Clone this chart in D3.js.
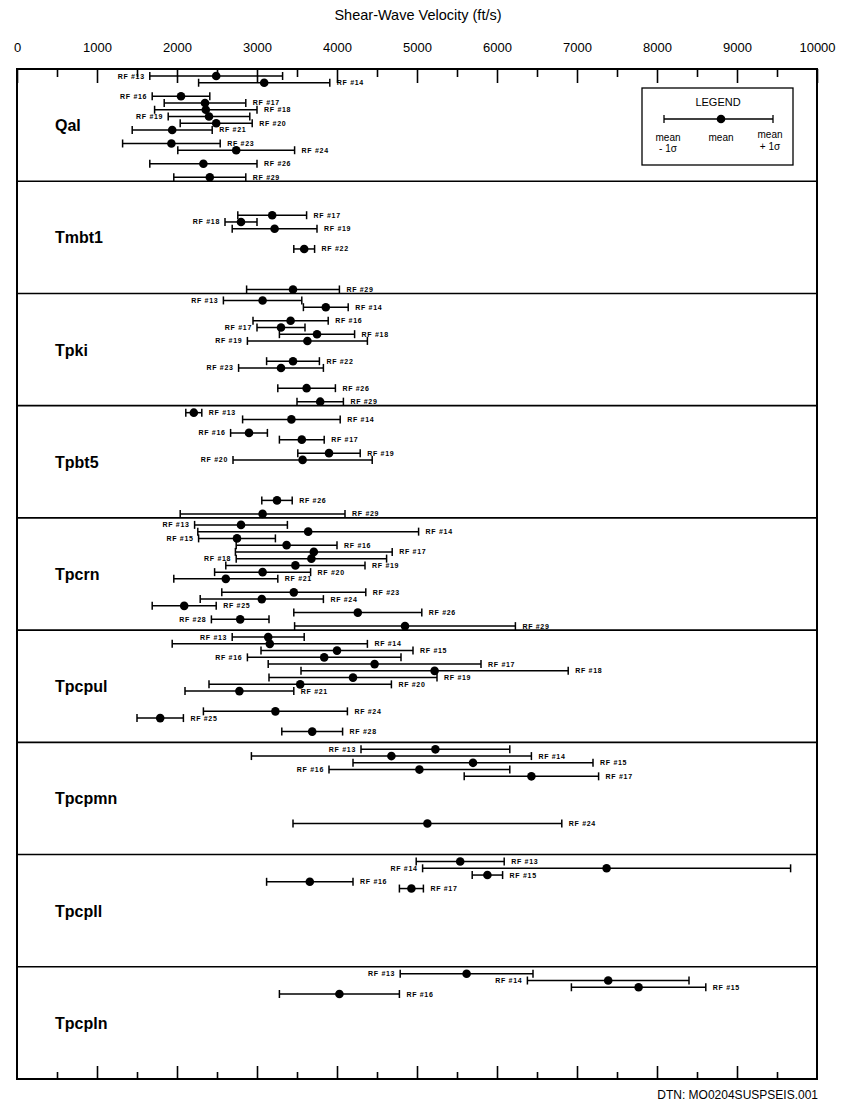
<!DOCTYPE html>
<html>
<head>
<meta charset="utf-8">
<script src="https://cdn.jsdelivr.net/npm/d3@7"></script>
<style>
  body { margin: 0; background: #fff; }
  svg { font-family: "Liberation Sans", Arial, sans-serif; }
  .rf { font-size: 7px; font-weight: bold; letter-spacing: 0.7px; }
  .unit { font-size: 16px; font-weight: bold; }
</style>
</head>
<body>
<div id="chart"></div>
<script>
// shear-wave velocity by unit, mean +/- 1 sigma per RF borehole
var panels = ["Qal", "Tmbt1", "Tpki", "Tpbt5", "Tpcrn", "Tpcpul", "Tpcpmn", "Tpcpll", "Tpcpln"];
var rfSlots = [13, 14, 15, 16, 17, 18, 19, 20, 21, 22, 23, 24, 25, 26, 28, 29];
var tickLabels = [0, 1000, 2000, 3000, 4000, 5000, 6000, 7000, 8000, 9000, 10000];

var qalRF   = [13, 14, 16, 17, 18, 19, 20, 21, 23, 24, 26, 29];
var qalMean = [2490, 3090, 2050, 2350, 2360, 2400, 2490, 1940, 1930, 2740, 2330, 2410];
var qalSd   = [830, 820, 360, 510, 640, 510, 450, 500, 610, 730, 670, 450];

var tmbt1RF   = [17, 18, 19, 22, 29];
var tmbt1Mean = [3190, 2800, 3220, 3590, 3450];
var tmbt1Sd   = [430, 200, 530, 130, 580];

var tpkiRF   = [13, 14, 16, 17, 18, 19, 22, 23, 26, 29];
var tpkiMean = [3070, 3860, 3420, 3300, 3750, 3630, 3450, 3300, 3620, 3790];
var tpkiSd   = [490, 280, 470, 300, 470, 750, 330, 530, 360, 290];

var tpbt5RF   = [13, 14, 16, 17, 19, 20, 26, 29];
var tpbt5Mean = [2210, 3430, 2900, 3560, 3900, 3570, 3250, 3070];
var tpbt5Sd   = [100, 610, 230, 280, 390, 870, 190, 1030];

var tpcrnRF   = [13, 14, 15, 16, 17, 18, 19, 20, 21, 23, 24, 25, 26, 28, 29];
var tpcrnMean = [2800, 3640, 2750, 3370, 3710, 3680, 3480, 3070, 2610, 3460, 3060, 2090, 4260, 2790, 4850];
var tpcrnSd   = [580, 1380, 480, 630, 980, 940, 870, 600, 650, 900, 770, 400, 800, 360, 1380];

var tpcpulRF   = [13, 14, 15, 16, 17, 18, 19, 20, 21, 24, 25, 28];
var tpcpulMean = [3140, 3160, 4000, 3840, 4470, 5220, 4200, 3540, 2780, 3230, 1790, 3690];
var tpcpulSd   = [450, 1220, 950, 960, 1330, 1670, 1050, 1140, 680, 900, 290, 380];

var tpcpmnRF   = [13, 14, 15, 16, 17, 24];
var tpcpmnMean = [5230, 4680, 5700, 5030, 6430, 5130];
var tpcpmnSd   = [930, 1750, 1500, 1130, 840, 1680];

var tpcpllRF   = [13, 14, 15, 16, 17];
var tpcpllMean = [5540, 7370, 5880, 3660, 4930];
var tpcpllSd   = [550, 2300, 190, 540, 150];

var tpcplnRF   = [13, 14, 15, 16];
var tpcplnMean = [5620, 7390, 7770, 4030];
var tpcplnSd   = [830, 1010, 840, 750];

// which rows carry their label on the left of the bar
var leftLabelled = {
  Qal: [13, 16, 19], Tmbt1: [18], Tpki: [13, 17, 19, 23], Tpbt5: [16, 20],
  Tpcrn: [13, 15, 18, 28], Tpcpul: [13, 16], Tpcpmn: [13, 16], Tpcpll: [14], Tpcpln: [13, 14]
};

var series = {
  Qal: [qalRF, qalMean, qalSd],
  Tmbt1: [tmbt1RF, tmbt1Mean, tmbt1Sd],
  Tpki: [tpkiRF, tpkiMean, tpkiSd],
  Tpbt5: [tpbt5RF, tpbt5Mean, tpbt5Sd],
  Tpcrn: [tpcrnRF, tpcrnMean, tpcrnSd],
  Tpcpul: [tpcpulRF, tpcpulMean, tpcpulSd],
  Tpcpmn: [tpcpmnRF, tpcpmnMean, tpcpmnSd],
  Tpcpll: [tpcpllRF, tpcpllMean, tpcpllSd],
  Tpcpln: [tpcplnRF, tpcplnMean, tpcplnSd]
};

var rows = [];
panels.forEach(function(p) {
  var s = series[p];
  s[0].forEach(function(rf, i) {
    rows.push({unit: p, rf: rf, mean: s[1][i], sd: s[2][i],
      left: leftLabelled[p].indexOf(rf) >= 0});
  });
});

var svgWidth = 841;
var svgHeight = 1105;
var plotLeft = 17, plotRight = 817, plotTop = 69, plotBottom = 1079;

var svg = d3.select("#chart").append("svg")
  .attr("width", svgWidth)
  .attr("height", svgHeight);

var x = d3.scaleLinear().domain([0, 10000]).range([plotLeft, plotRight]);
var yPanel = d3.scaleBand().domain(panels).range([plotTop, plotBottom]);
var ySlot = d3.scalePoint().domain(rfSlots).range([7, yPanel.bandwidth() - 4]);

function rowY(d) { return yPanel(d.unit) + ySlot(d.rf); }

// title
svg.append("text")
  .attr("x", 418).attr("y", 20)
  .attr("text-anchor", "middle")
  .attr("font-size", 14.5)
  .text("Shear-Wave Velocity (ft/s)");

// top axis: labels + downward ticks
svg.append("g")
  .attr("transform", `translate(0, ${plotTop})`)
  .call(d3.axisTop(x).tickValues(d3.range(500, 10000, 1000)).tickSize(-8).tickFormat(""));
var topMajor = svg.append("g")
  .attr("transform", `translate(0, ${plotTop})`)
  .call(d3.axisTop(x).tickValues(tickLabels).tickSize(-14).tickPadding(17).tickFormat(d3.format("d")));
topMajor.selectAll("text").attr("font-size", 13).attr("font-family", "Liberation Sans, Arial, sans-serif").attr("fill", "#000");

// bottom axis: upward ticks only
svg.append("g")
  .attr("transform", `translate(0, ${plotBottom})`)
  .call(d3.axisBottom(x).tickValues(d3.range(500, 10000, 1000)).tickSize(-7).tickFormat(""));
svg.append("g")
  .attr("transform", `translate(0, ${plotBottom})`)
  .call(d3.axisBottom(x).tickValues(d3.range(1000, 10000, 1000)).tickSize(-13).tickFormat(""));

svg.selectAll(".domain").remove();
svg.selectAll(".tick line").attr("stroke", "#000").attr("stroke-width", 1.6);

// panel dividers
svg.selectAll("line.divider")
  .data(panels.slice(1))
  .enter().append("line")
  .attr("class", "divider")
  .attr("x1", plotLeft).attr("x2", plotRight)
  .attr("y1", d => yPanel(d)).attr("y2", d => yPanel(d))
  .attr("stroke", "#000").attr("stroke-width", 1.6);

// frame
svg.append("rect")
  .attr("x", plotLeft).attr("y", plotTop)
  .attr("width", plotRight - plotLeft).attr("height", plotBottom - plotTop)
  .attr("fill", "none").attr("stroke", "#000").attr("stroke-width", 2);

// unit names
svg.selectAll("text.unit")
  .data(panels)
  .enter().append("text")
  .attr("class", "unit")
  .attr("x", 55)
  .attr("y", d => yPanel(d) + yPanel.bandwidth() / 2 + 6)
  .text(d => d);

// error bars
var bars = svg.append("g").selectAll("g")
  .data(rows)
  .enter().append("g");

bars.append("line")
  .attr("x1", d => x(d.mean - d.sd)).attr("x2", d => x(d.mean + d.sd))
  .attr("y1", rowY).attr("y2", rowY)
  .attr("stroke", "#000").attr("stroke-width", 1.5);

bars.append("line")
  .attr("x1", d => x(d.mean - d.sd)).attr("x2", d => x(d.mean - d.sd))
  .attr("y1", d => rowY(d) - 4).attr("y2", d => rowY(d) + 4)
  .attr("stroke", "#000").attr("stroke-width", 1.5);

bars.append("line")
  .attr("x1", d => x(d.mean + d.sd)).attr("x2", d => x(d.mean + d.sd))
  .attr("y1", d => rowY(d) - 4).attr("y2", d => rowY(d) + 4)
  .attr("stroke", "#000").attr("stroke-width", 1.5);

bars.append("circle")
  .attr("cx", d => x(d.mean))
  .attr("cy", rowY)
  .attr("r", 4.3)
  .attr("fill", "#000");

bars.append("text")
  .attr("class", "rf")
  .attr("x", d => d.left ? x(d.mean - d.sd) - 5 : x(d.mean + d.sd) + 7)
  .attr("y", d => rowY(d) + 2.5)
  .attr("text-anchor", d => d.left ? "end" : "start")
  .text(d => "RF #" + d.rf);

// legend
var lg = svg.append("g");
lg.append("rect")
  .attr("x", 642).attr("y", 88).attr("width", 151).attr("height", 77)
  .attr("fill", "#fff").attr("stroke", "#000").attr("stroke-width", 1.3);
lg.append("text").attr("x", 718).attr("y", 106).attr("text-anchor", "middle")
  .attr("font-size", 11).text("LEGEND");
lg.append("line").attr("x1", 664).attr("x2", 773).attr("y1", 119).attr("y2", 119)
  .attr("stroke", "#000").attr("stroke-width", 1.3);
lg.append("line").attr("x1", 664).attr("x2", 664).attr("y1", 115).attr("y2", 123)
  .attr("stroke", "#000").attr("stroke-width", 1.3);
lg.append("line").attr("x1", 773).attr("x2", 773).attr("y1", 115).attr("y2", 123)
  .attr("stroke", "#000").attr("stroke-width", 1.3);
lg.append("circle").attr("cx", 721).attr("cy", 119).attr("r", 4.3).attr("fill", "#000");
var lgText = [
  {x: 668, y: 141, t: "mean"}, {x: 668, y: 152, t: "- 1σ"},
  {x: 721, y: 141, t: "mean"},
  {x: 770, y: 138, t: "mean"}, {x: 770, y: 150, t: "+ 1σ"}
];
lg.selectAll("text.lt").data(lgText).enter().append("text")
  .attr("class", "lt")
  .attr("x", d => d.x).attr("y", d => d.y)
  .attr("text-anchor", "middle")
  .attr("font-size", 10)
  .text(d => d.t);

// data tracking number
svg.append("text")
  .attr("x", 818).attr("y", 1099)
  .attr("text-anchor", "end")
  .attr("font-size", 12)
  .text("DTN:  MO0204SUSPSEIS.001");
</script>
</body>
</html>
